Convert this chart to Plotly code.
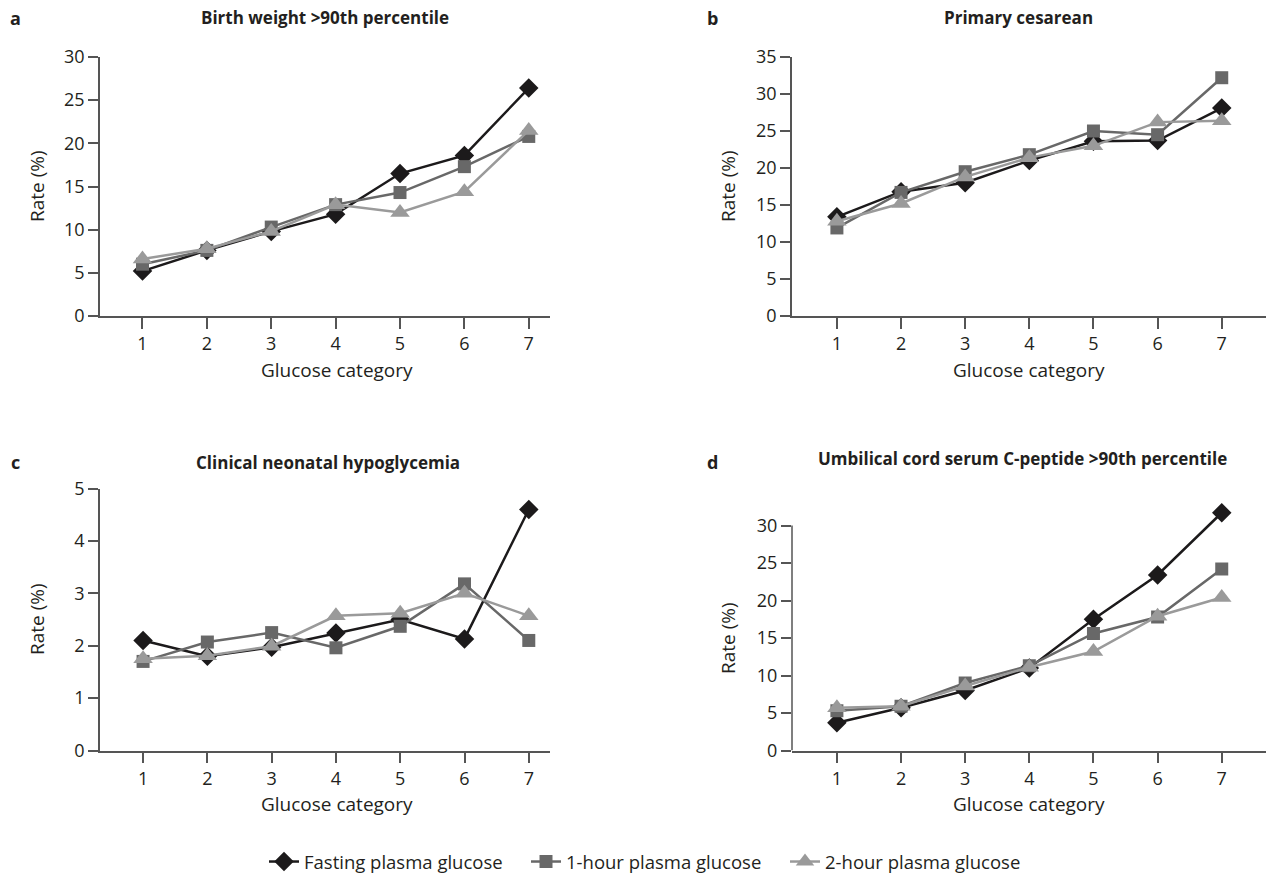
import plotly.graph_objects as go

W, H = 1269, 877
categories = [1, 2, 3, 4, 5, 6, 7]
series_names = ["Fasting plasma glucose", "1-hour plasma glucose", "2-hour plasma glucose"]

a_fasting = [5.2, 7.6, 9.8, 11.8, 16.5, 18.6, 26.4]
a_1hour = [6.0, 7.6, 10.3, 12.9, 14.3, 17.3, 20.8]
a_2hour = [6.6, 7.8, 9.8, 12.9, 12.0, 14.4, 21.5]

b_fasting = [13.4, 16.8, 18.0, 21.0, 23.6, 23.7, 28.1]
b_1hour = [11.9, 16.7, 19.5, 21.8, 25.0, 24.5, 32.2]
b_2hour = [12.8, 15.2, 18.8, 21.4, 23.0, 26.2, 26.4]

c_fasting = [2.1, 1.8, 1.97, 2.24, 2.5, 2.13, 4.6]
c_1hour = [1.7, 2.07, 2.25, 1.96, 2.37, 3.18, 2.1]
c_2hour = [1.75, 1.81, 1.99, 2.57, 2.62, 3.0, 2.57]

d_fasting = [3.7, 5.7, 8.0, 11.0, 17.5, 23.4, 31.7]
d_1hour = [5.3, 5.9, 9.0, 11.3, 15.6, 17.8, 24.2]
d_2hour = [5.7, 5.9, 8.6, 11.1, 13.2, 17.9, 20.4]

panel_letters = ["a", "b", "c", "d"]
panel_titles = ["Birth weight >90th percentile", "Primary cesarean",
                "Clinical neonatal hypoglycemia",
                "Umbilical cord serum C-peptide >90th percentile"]
y_ticks = [[0, 5, 10, 15, 20, 25, 30], [0, 5, 10, 15, 20, 25, 30, 35],
           [0, 1, 2, 3, 4, 5], [0, 5, 10, 15, 20, 25, 30]]
x_title = "Glucose category"
y_title = "Rate (%)"

panels = [
    (a_fasting, a_1hour, a_2hour),
    (b_fasting, b_1hour, b_2hour),
    (c_fasting, c_1hour, c_2hour),
    (d_fasting, d_1hour, d_2hour),
]

colors = ["#1c1a1b", "#686868", "#9a9a9a"]
symbols = ["diamond", "square", "triangle-up"]
msizes = [15, 13, 17]
legend_ids = ["legend", "legend2", "legend3"]

FONT = "Open Sans"
AX = "#555555"
TXT = "#231f20"

fig = go.Figure()
for p, data in enumerate(panels):
    xa = "x" if p == 0 else f"x{p+1}"
    ya = "y" if p == 0 else f"y{p+1}"
    for s in range(3):
        fig.add_trace(go.Scatter(
            x=categories, y=data[s], mode="lines+markers",
            name=series_names[s], legend=legend_ids[s], showlegend=(p == 0),
            line=dict(color=colors[s], width=2.5),
            marker=dict(symbol=symbols[s], size=msizes[s], color=colors[s]),
            xaxis=xa, yaxis=ya, cliponaxis=False))

def px_x(v):
    return v / W

def px_y(v):
    return 1 - v / H

xdom_l = [px_x(100), px_x(550)]
xdom_r = [px_x(792), px_x(1266)]
ydom_t = [px_y(316), px_y(57)]
ydom_b = [px_y(750.5), px_y(488.5)]

common_x = dict(showline=True, linecolor=AX, linewidth=1.5, ticks="outside",
                ticklen=11, tickwidth=1.5, tickcolor=AX, showgrid=False,
                zeroline=False, tickvals=categories, automargin=False,
                tickfont=dict(family=FONT, size=18, color=TXT))
common_y = dict(showline=True, linecolor=AX, linewidth=1.5, ticks="outside",
                ticklen=10, tickwidth=1.5, tickcolor=AX, showgrid=False,
                zeroline=False, automargin=False,
                tickfont=dict(family=FONT, size=18, color=TXT))

leg_common = dict(orientation="h", xanchor="left", yanchor="middle",
                  y=px_y(862), font=dict(family=FONT, size=18.5, color=TXT),
                  bgcolor="rgba(0,0,0,0)", borderwidth=0)

layout = dict(
    width=W, height=H, margin=dict(l=0, r=0, t=0, b=0, pad=0, autoexpand=False),
    paper_bgcolor="white", plot_bgcolor="white",
    font=dict(family=FONT, color=TXT),
    xaxis=dict(common_x, domain=xdom_l, range=[0.34, 7.33], anchor="y"),
    yaxis=dict(common_y, domain=ydom_t, range=[0, 30], tickvals=y_ticks[0], anchor="x"),
    xaxis2=dict(common_x, domain=xdom_r, range=[0.30, 7.69], anchor="y2"),
    yaxis2=dict(common_y, domain=ydom_t, range=[0, 35], tickvals=y_ticks[1], anchor="x2"),
    xaxis3=dict(common_x, domain=xdom_l, range=[0.33, 7.33], anchor="y3"),
    yaxis3=dict(common_y, domain=ydom_b, range=[0, 5], tickvals=y_ticks[2], anchor="x3"),
    xaxis4=dict(common_x, domain=xdom_r, range=[0.30, 7.69], anchor="y4"),
    yaxis4=dict(common_y, domain=ydom_b, range=[0, 30 * 262 / 225], tickvals=y_ticks[3],
                anchor="x4", showline=False),
    showlegend=True,
    legend=dict(leg_common, x=px_x(264)),
    legend2=dict(leg_common, x=px_x(526)),
    legend3=dict(leg_common, x=px_x(785)),
)
fig.update_layout(**layout)

# y-axis line for panel d stops at the top tick
fig.add_shape(type="line", xref="x4 domain", yref="y4", x0=0, x1=0, y0=0, y1=30,
              line=dict(color=AX, width=1.5))

ann = []
letter_pos = [(15, 18), (712, 18), (15, 462), (712, 462)]
title_pos = [(325, 18), (1018, 18), (328, 462), (1022, 458)]
xt_pos = [(337, 370), (1029, 370), (337, 804), (1029, 804)]
yt_pos = [(37, 186), (728, 186), (37, 619), (728, 638)]
for p in range(4):
    ann.append(dict(text=f"<b>{panel_letters[p]}</b>", x=px_x(letter_pos[p][0]),
                    y=px_y(letter_pos[p][1]), xref="paper", yref="paper",
                    showarrow=False, xanchor="center", yanchor="middle",
                    font=dict(family=FONT, size=18, color=TXT)))
    ann.append(dict(text=f"<b>{panel_titles[p]}</b>", x=px_x(title_pos[p][0]),
                    y=px_y(title_pos[p][1]), xref="paper", yref="paper",
                    showarrow=False, xanchor="center", yanchor="middle",
                    font=dict(family=FONT, size=17, color=TXT)))
    ann.append(dict(text=x_title, x=px_x(xt_pos[p][0]), y=px_y(xt_pos[p][1]),
                    xref="paper", yref="paper", showarrow=False,
                    xanchor="center", yanchor="middle",
                    font=dict(family=FONT, size=19, color=TXT)))
    ann.append(dict(text=y_title, x=px_x(yt_pos[p][0]), y=px_y(yt_pos[p][1]),
                    xref="paper", yref="paper", showarrow=False, textangle=-90,
                    xanchor="center", yanchor="middle",
                    font=dict(family=FONT, size=19, color=TXT)))
fig.update_layout(annotations=ann)

fig.write_html("out.html", config={"displayModeBar": False},
               post_script="document.body.style.margin='0px';document.body.style.overflow='hidden';")
